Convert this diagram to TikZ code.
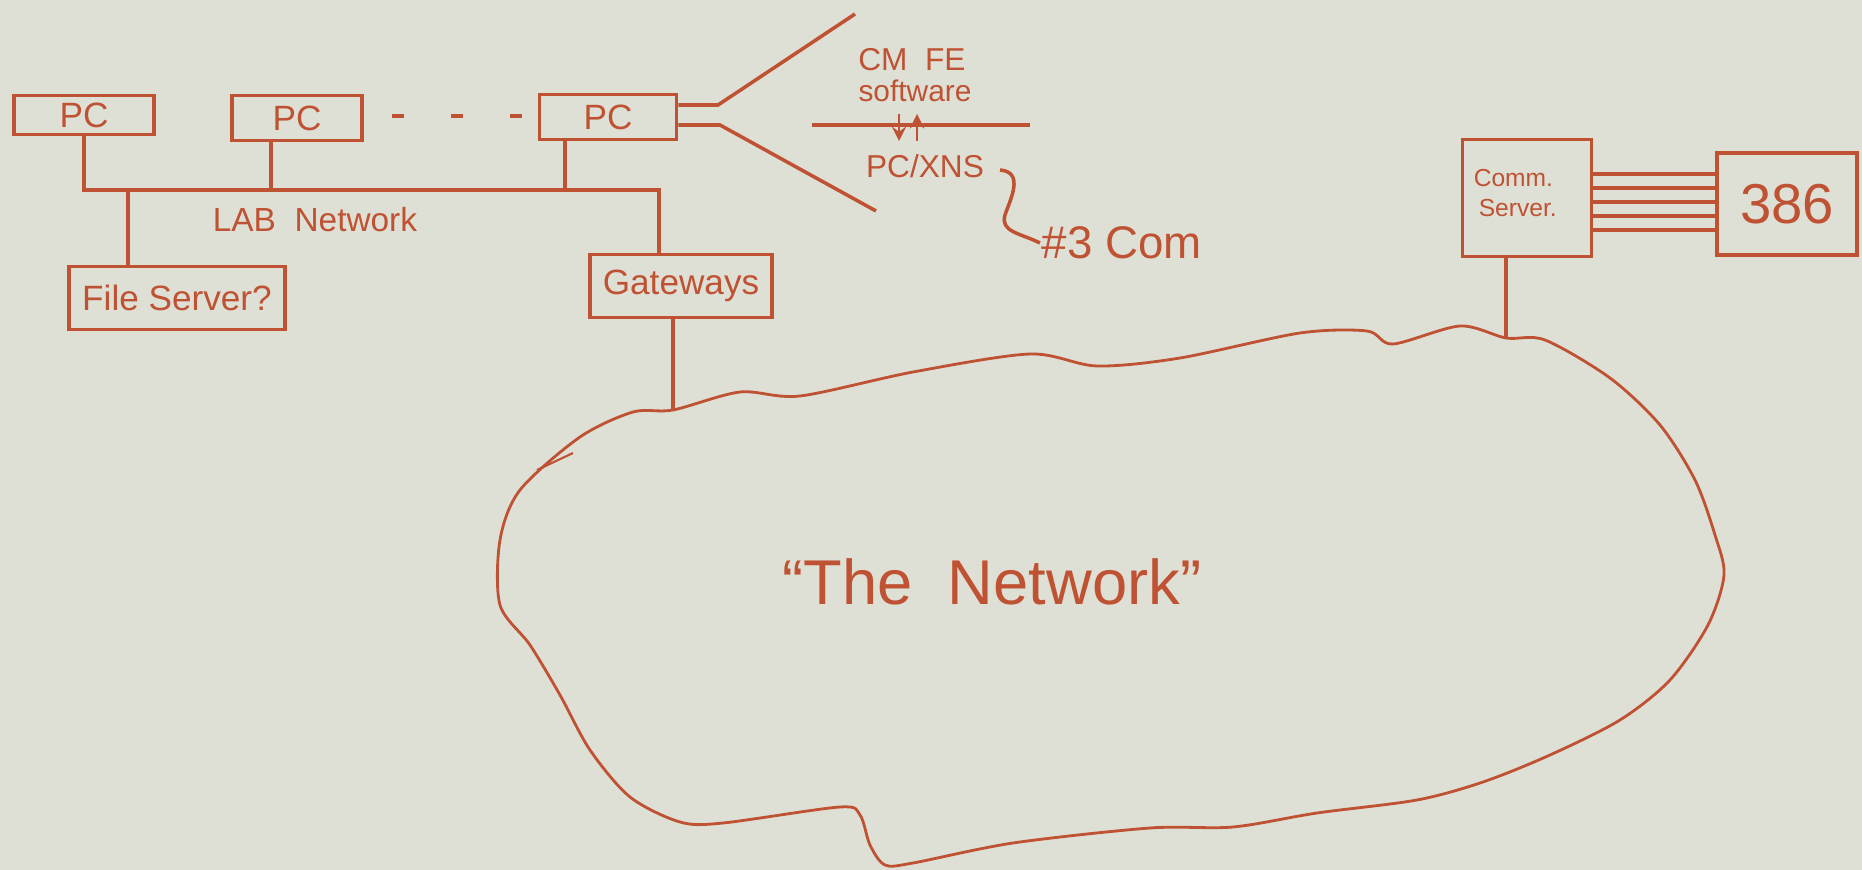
\documentclass[tikz,border=0pt]{standalone}
\usepackage{fontspec}
\setmainfont{Liberation Sans}
\usetikzlibrary{positioning}
\definecolor{ink}{RGB}{192,82,52}
\definecolor{paper}{RGB}{222,224,213}

\begin{document}
\begin{tikzpicture}[>=stealth, x=0.01cm, y=-0.01cm, line width=1pt, color=ink,
  box/.style={draw, inner sep=0pt, font=\fontsize{10}{12}\selectfont},
  lbl/.style={inner sep=0pt, font=\fontsize{9}{11}\selectfont}]
  \fill[paper] (0,0) rectangle (1862,870);
  \useasboundingbox (0,0) rectangle (1862,870);

  % lab network
  \node[box, minimum width=1.40cm, minimum height=0.39cm] (pc1) at (84,115) {PC};
  \node[box, minimum width=1.30cm, minimum height=0.45cm] (pc2) at (297,118) {PC};
  \node[box, minimum width=1.37cm, minimum height=0.45cm] (pc3) at (608,117) {PC};
  \foreach \x in {398,457,516} {
    \draw (\x-6,116) -- (\x+6,116);
  }
  \node[box, minimum width=2.16cm, minimum height=0.63cm] (fs) at (177,298) {File Server?};
  \node[box, minimum width=1.82cm, minimum height=0.63cm] (gw) at (681,286) {Gateways};
  \node[lbl, font=\fontsize{9.5}{11}\selectfont] (lab) at (315,220) {LAB \ Network};

  \coordinate (busl) at (84,190);
  \coordinate (busr) at (659,190);
  \coordinate (tap2) at (271,190);
  \coordinate (tap3) at (565,190);
  \coordinate (tapfs) at (128,190);
  \draw (pc1.south) -- (busl) -- (busr) -- (busr |- gw.north);
  \draw (tap2 |- pc2.south) -- (tap2);
  \draw (tap3 |- pc3.south) -- (tap3);
  \draw (tapfs) -- (tapfs |- fs.north);

  % front end software
  \coordinate (fk1) at (718,105);
  \coordinate (fk2) at (720,125);
  \coordinate (fk1e) at (855,14);
  \coordinate (fk2e) at (876,211);
  \draw (pc3.east |- fk1) -- (fk1) -- (fk1e);
  \draw (pc3.east |- fk2) -- (fk2) -- (fk2e);
  \node[lbl] (cmfe) at (912,60) {CM \ FE};
  \node[lbl, font=\fontsize{8.5}{10}\selectfont] (sw) at (915,91) {software};
  \draw (812,125) -- (1030,125);
  \draw[->, line width=0.8pt] (899,114) -- (899,141);
  \draw[->, line width=0.8pt] (917,141) -- (917,114);
  \node[lbl] (xns) at (925,166) {PC/XNS};
  \node[lbl, anchor=west, font=\fontsize{13}{15}\selectfont] (tcom) at (1040,243) {\#3 Com};
  \draw (1000,170) .. controls (1025,172) and (1010,200) .. (1005,215)
    .. controls (1000,232) and (1020,233) .. (tcom.west);

  % comm server and 386
  \node[box, minimum width=1.29cm, minimum height=1.17cm] (cs) at (1527,198) {};
  \node[lbl, anchor=west, font=\fontsize{7}{8}\selectfont] (csa) at (1472,178) {Comm.};
  \node[lbl, anchor=west, font=\fontsize{7}{8}\selectfont] (csb) at (1477,208) {Server.};
  \node[box, minimum width=1.40cm, minimum height=1.02cm, font=\fontsize{16}{18}\selectfont] (cpu) at (1787,204) {386};
  \foreach \y in {174,188,202,216,230} {
    \draw (cs.east |- 0,\y) -- (cpu.west |- 0,\y);
  }

  % the network
  \coordinate (gwtap) at (673,410);
  \coordinate (cstap) at (1506,338);
  \draw (gw.south -| gwtap) -- (gwtap);
  \draw (cs.south -| cstap) -- (cstap);
  \draw[line width=0.8pt] plot[smooth cycle, tension=0.5] coordinates {
    (673,410) (740,392) (800,396) (913,372) (1030,354) (1097,366) (1180,358)
    (1300,333) (1367,331) (1393,344) (1460,326) (1506,338) (1545,340)
    (1610,378) (1660,425) (1695,480) (1715,535) (1724,575) (1708,625)
    (1670,680) (1620,720) (1550,755) (1483,782) (1417,800) (1317,813)
    (1233,827) (1150,828) (1013,843) (913,863) (885,865) (870,845)
    (860,815) (840,807) (723,823) (680,822) (630,797) (590,750)
    (560,695) (530,645) (500,605) (500,540) (520,490) (580,437) (633,412)};
  \draw[line width=0.6pt] (537,470) -- (573,453);
  \node[lbl, font=\fontsize{18}{20}\selectfont] (net) at (992,582) {``The \ Network''};
\end{tikzpicture}
\end{document}
